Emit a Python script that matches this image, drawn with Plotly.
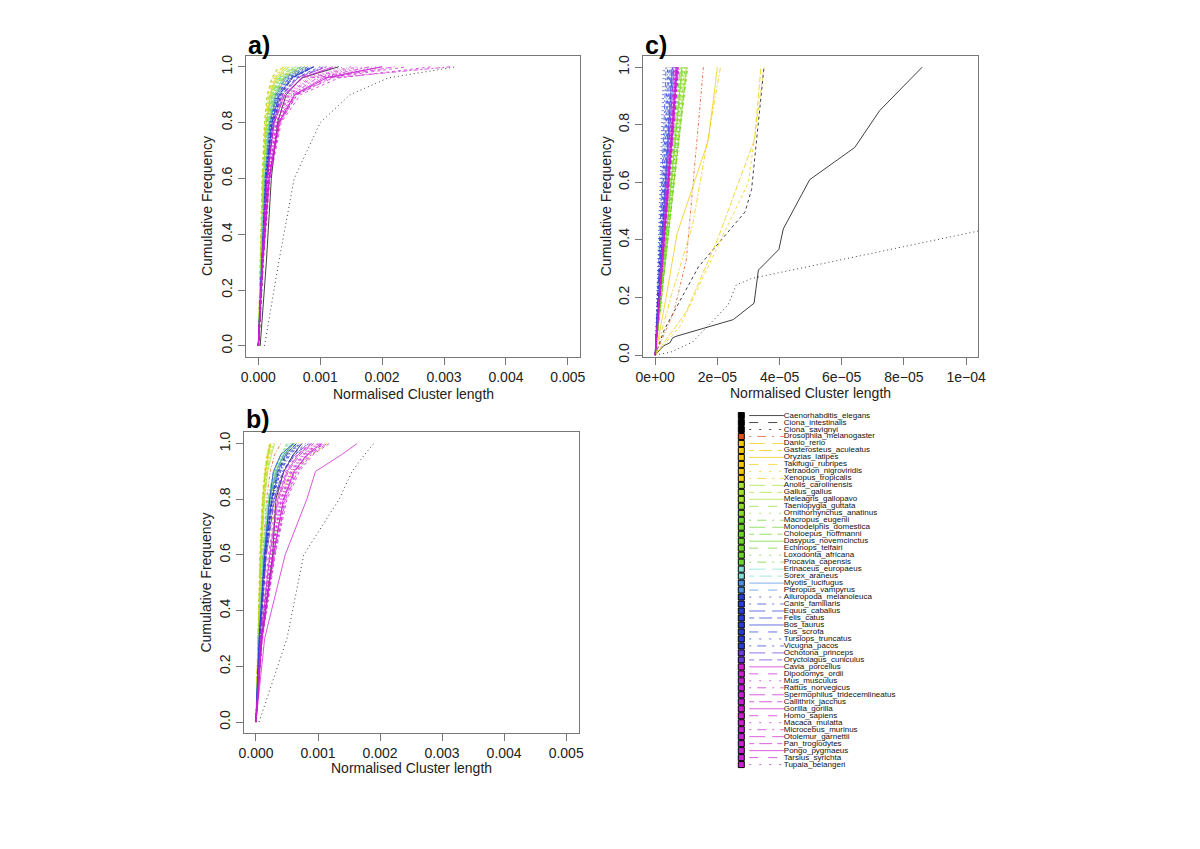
import plotly.graph_objects as go

# ---------------- data ----------------
SPECIES = [
    "Caenorhabditis_elegans", "Ciona_intestinalis", "Ciona_savignyi", "Drosophila_melanogaster",
    "Danio_rerio", "Gasterosteus_aculeatus", "Oryzias_latipes", "Takifugu_rubripes",
    "Tetraodon_nigroviridis", "Xenopus_tropicalis", "Anolis_carolinensis", "Gallus_gallus",
    "Meleagris_gallopavo", "Taeniopygia_guttata", "Ornithorhynchus_anatinus", "Macropus_eugenii",
    "Monodelphis_domestica", "Choloepus_hoffmanni", "Dasypus_novemcinctus", "Echinops_telfairi",
    "Loxodonta_africana", "Procavia_capensis", "Erinaceus_europaeus", "Sorex_araneus",
    "Myotis_lucifugus", "Pteropus_vampyrus", "Ailuropoda_melanoleuca", "Canis_familiaris",
    "Equus_caballus", "Felis_catus", "Bos_taurus", "Sus_scrofa", "Tursiops_truncatus",
    "Vicugna_pacos", "Ochotona_princeps", "Oryctolagus_cuniculus", "Cavia_porcellus",
    "Dipodomys_ordii", "Mus_musculus", "Rattus_norvegicus", "Spermophilus_tridecemlineatus",
    "Callithrix_jacchus", "Gorilla_gorilla", "Homo_sapiens", "Macaca_mulatta",
    "Microcebus_murinus", "Otolemur_garnettii", "Pan_troglodytes", "Pongo_pygmaeus",
    "Tarsius_syrichta", "Tupaia_belangeri",
]

COLORS = (
    ["#000000"] * 3 + ["#E4501C"] + ["#F2CB05"] * 6 + ["#A6E22E"] * 3 + ["#8EDC2A"] * 2
    + ["#6CD42A"] * 7 + ["#7FE0D2"] * 2 + ["#4A8FE0"] * 2 + ["#2A3CD8"] * 8
    + ["#6A3CE0"] * 2 + ["#CC1FD2"] * 15
)

LTY_CYCLE = ["solid", "dashed", "dotted", "dotdash", "longdash", "twodash"]
LTY = [LTY_CYCLE[i % 6] for i in range(len(SPECIES))]

# cumulative-frequency levels for panels a) and b)
LEVELS_AB = [0, 0.3, 0.6, 0.8, 0.9, 0.96, 1.0]
UNIT_AB = 1e-4   # x values below are in units of 1e-4

A_X = [
    [0.3, 1.3, 2.1, 3.1, 4.5, 7.0, 13.0],
    [0.1, 0.8, 1.5, 2.4, 3.6, 5.5, 9.0],
    [1.0, 3.3, 5.8, 10.0, 14.8, 21.0, 32.0],
    [0.1, 0.7, 1.3, 2.0, 2.8, 4.2, 7.0],
    [0.0, 0.5, 1.0, 1.6, 2.3, 3.5, 6.0],
    [0.0, 0.3, 0.7, 1.1, 1.6, 2.4, 4.0],
    [0.0, 0.35, 0.8, 1.3, 1.9, 2.8, 4.5],
    [0.0, 0.3, 0.6, 1.0, 1.5, 2.2, 3.5],
    [0.0, 0.3, 0.65, 1.1, 1.7, 2.6, 3.8],
    [0.0, 0.5, 1.1, 1.8, 2.7, 4.0, 6.5],
    [0.0, 0.4, 0.9, 1.4, 2.1, 3.2, 5.0],
    [0.0, 0.35, 0.75, 1.2, 1.8, 2.7, 4.2],
    [0.0, 0.4, 0.8, 1.3, 2.0, 3.0, 4.8],
    [0.0, 0.3, 0.6, 1.0, 1.4, 2.2, 3.2],
    [0.0, 0.5, 1.1, 1.9, 2.9, 4.4, 7.5],
    [0.0, 0.45, 1.0, 1.6, 2.4, 3.6, 6.0],
    [0.0, 0.5, 1.1, 1.8, 2.8, 4.4, 7.5],
    [0.0, 0.4, 0.9, 1.5, 2.2, 3.3, 5.5],
    [0.0, 0.45, 1.0, 1.7, 2.6, 4.0, 6.8],
    [0.0, 0.5, 1.1, 1.9, 3.0, 4.8, 8.0],
    [0.0, 0.5, 1.0, 1.7, 2.6, 4.0, 6.5],
    [0.0, 0.45, 1.0, 1.6, 2.5, 3.8, 6.2],
    [0.0, 0.45, 1.0, 1.7, 2.6, 4.0, 6.5],
    [0.0, 0.4, 0.9, 1.5, 2.3, 3.5, 5.8],
    [0.0, 0.5, 1.1, 1.9, 2.9, 4.5, 7.5],
    [0.0, 0.5, 1.1, 1.8, 2.8, 4.3, 7.0],
    [0.0, 0.55, 1.2, 2.1, 3.3, 5.2, 8.5],
    [0.0, 0.6, 1.3, 2.3, 3.6, 5.6, 9.0],
    [0.0, 0.55, 1.25, 2.2, 3.4, 5.4, 9.0],
    [0.0, 0.55, 1.2, 2.1, 3.2, 5.0, 8.5],
    [0.0, 0.6, 1.3, 2.2, 3.4, 5.3, 8.8],
    [0.0, 0.6, 1.35, 2.4, 3.8, 6.0, 10.0],
    [0.0, 0.5, 1.1, 1.9, 3.0, 4.8, 8.0],
    [0.0, 0.55, 1.2, 2.0, 3.1, 4.9, 8.0],
    [0.0, 0.6, 1.4, 2.5, 4.0, 6.4, 11.0],
    [0.0, 0.6, 1.35, 2.4, 3.8, 6.2, 10.5],
    [0.0, 0.6, 1.4, 2.6, 4.2, 7.0, 12.0],
    [0.0, 0.55, 1.3, 2.4, 3.9, 6.4, 11.0],
    [0.0, 0.65, 1.5, 2.8, 4.6, 7.8, 14.0],
    [0.0, 0.65, 1.55, 2.9, 4.8, 8.2, 15.0],
    [0.0, 0.6, 1.4, 2.6, 4.3, 7.2, 12.5],
    [0.0, 0.7, 1.7, 3.2, 5.4, 9.5, 18.0],
    [0.0, 0.7, 1.7, 3.3, 5.8, 10.5, 20.0],
    [0.0, 0.75, 1.8, 3.5, 6.3, 11.5, 24.0],
    [0.0, 0.7, 1.7, 3.2, 5.6, 10.0, 19.0],
    [0.0, 0.7, 1.6, 3.0, 5.0, 8.6, 16.0],
    [0.0, 0.72, 1.75, 3.4, 6.0, 11.0, 22.0],
    [0.0, 0.75, 1.8, 3.5, 6.2, 12.0, 31.0],
    [0.0, 0.72, 1.75, 3.3, 5.9, 11.0, 20.0],
    [0.0, 0.8, 1.9, 3.7, 6.8, 13.0, 28.0],
    [0.0, 0.7, 1.6, 3.0, 5.2, 9.0, 17.0],
]

B_X = [
    [0.0, 0.9, 2.7, 3.2, 4.5, 6.0, 7.4],
    [0.0, 0.7, 1.6, 2.6, 3.6, 4.8, 6.5],
    [0.5, 5.0, 7.7, 13.4, 15.5, 17.5, 19.0],
    [0.0, 0.5, 1.1, 1.7, 2.3, 3.0, 4.0],
    [0.0, 0.3, 0.7, 1.1, 1.5, 1.9, 2.3],
    [0.0, 0.3, 0.8, 1.3, 1.7, 2.1, 2.6],
    [0.0, 0.35, 0.8, 1.2, 1.6, 2.0, 2.4],
    [0.0, 0.25, 0.6, 1.0, 1.4, 1.8, 2.2],
    [0.0, 0.3, 0.7, 1.0, 1.3, 1.7, 2.0],
    [0.0, 0.6, 1.6, 3.2, 6.0, 9.0, 11.5],
    [0.0, 0.3, 0.7, 1.1, 1.5, 1.9, 2.3],
    [0.0, 0.35, 0.8, 1.3, 1.8, 2.3, 2.8],
    [0.0, 0.4, 0.9, 1.4, 1.9, 2.5, 3.0],
    [0.0, 0.3, 0.7, 1.1, 1.5, 1.9, 2.4],
    [0.0, 0.5, 1.3, 2.2, 3.3, 4.5, 6.0],
    [0.0, 0.5, 1.2, 2.0, 3.0, 4.0, 5.5],
    [0.0, 0.55, 1.3, 2.3, 3.4, 4.6, 6.2],
    [0.0, 0.45, 1.1, 1.9, 2.9, 4.0, 5.0],
    [0.0, 0.5, 1.2, 2.1, 3.2, 4.5, 6.0],
    [0.0, 0.55, 1.3, 2.4, 3.6, 5.0, 7.0],
    [0.0, 0.5, 1.2, 2.0, 3.0, 4.3, 5.8],
    [0.0, 0.5, 1.2, 2.1, 3.1, 4.4, 6.2],
    [0.0, 0.5, 1.2, 2.0, 3.1, 4.3, 5.6],
    [0.0, 0.45, 1.1, 1.9, 2.8, 4.0, 5.2],
    [0.0, 0.5, 1.3, 2.2, 3.3, 4.5, 6.0],
    [0.0, 0.55, 1.3, 2.3, 3.5, 4.8, 6.5],
    [0.0, 0.6, 1.5, 2.6, 3.8, 5.2, 7.0],
    [0.0, 0.6, 1.5, 2.7, 4.0, 5.5, 7.5],
    [0.0, 0.6, 1.5, 2.5, 3.5, 4.8, 6.5],
    [0.0, 0.55, 1.4, 2.5, 3.7, 5.0, 6.8],
    [0.0, 0.5, 1.4, 2.2, 2.8, 4.0, 6.0],
    [0.0, 0.6, 1.6, 2.9, 4.3, 6.0, 8.0],
    [0.0, 0.55, 1.4, 2.5, 3.7, 5.2, 7.0],
    [0.0, 0.6, 1.5, 2.6, 3.9, 5.3, 7.2],
    [0.0, 0.65, 1.7, 3.0, 4.5, 6.3, 8.5],
    [0.0, 0.65, 1.6, 2.9, 4.4, 6.2, 8.4],
    [0.0, 0.8, 2.2, 3.5, 5.0, 6.8, 9.0],
    [0.0, 0.75, 2.0, 3.3, 4.8, 6.6, 8.8],
    [0.0, 0.85, 2.4, 3.9, 5.5, 7.4, 9.6],
    [0.0, 0.9, 2.6, 4.1, 5.8, 7.8, 10.2],
    [0.0, 0.8, 2.3, 3.7, 5.2, 7.1, 9.3],
    [0.0, 0.95, 2.8, 4.5, 6.3, 8.2, 10.6],
    [0.0, 1.4, 4.7, 8.2, 9.6, 13.8, 16.3],
    [0.0, 0.95, 2.9, 4.7, 6.5, 8.6, 11.0],
    [0.0, 0.9, 2.7, 4.3, 6.0, 8.0, 10.3],
    [0.0, 0.85, 2.5, 4.0, 5.6, 7.6, 9.9],
    [0.0, 0.95, 2.8, 4.5, 6.2, 8.4, 10.9],
    [0.0, 1.0, 3.0, 4.8, 6.7, 8.9, 11.4],
    [0.0, 0.95, 2.8, 4.4, 6.1, 8.2, 10.5],
    [0.0, 1.05, 3.1, 5.0, 7.0, 9.2, 11.8],
    [0.0, 0.9, 2.6, 4.2, 5.8, 7.7, 10.0],
]

UNIT_C = 1e-5   # panel c) x values in units of 1e-5
C_X = [
    [0, 0.16, 0.27, 0.48, 0.56, 0.7, 2.51, 3.18, 3.32, 3.98, 4.12, 4.97, 6.42, 7.22, 8.59],
    [0, 0.3, 1.39, 2.89, 3.1, 3.5],
    [0, 0.5, 1.2, 2.35, 2.6, 3.1, 10.5, 12.0],
    [0, 0.6, 1.0, 1.55],
    [0, 1.0, 2.0, 3.2, 3.4],
    [0, 0.5, 1.2, 2.1],
    [0, 0.35, 0.7, 1.71, 2.0],
    [0, 0.8, 1.8, 3.0, 3.5],
    [0, 0.45, 0.95], [0, 0.5, 1.0], [0, 0.45, 0.9], [0, 0.42, 0.85],
    [0, 0.5, 1.0], [0, 0.4, 0.82], [0, 0.48, 0.95], [0, 0.44, 0.88],
    [0, 0.5, 1.02], [0, 0.4, 0.8], [0, 0.42, 0.86], [0, 0.47, 0.96],
    [0, 0.45, 0.92], [0, 0.5, 1.05], [0, 0.36, 0.72], [0, 0.34, 0.68],
    [0, 0.3, 0.6], [0, 0.2, 0.42], [0, 0.15, 0.3], [0, 0.2, 0.4],
    [0, 0.26, 0.52], [0, 0.17, 0.35], [0, 0.28, 0.55], [0, 0.22, 0.45],
    [0, 0.13, 0.26], [0, 0.24, 0.48], [0, 0.3, 0.6], [0, 0.27, 0.56],
    [0, 0.33, 0.66], [0, 0.3, 0.62], [0, 0.32, 0.64], [0, 0.35, 0.7],
    [0, 0.34, 0.68], [0, 0.36, 0.72], [0, 0.35, 0.7], [0, 0.37, 0.74],
    [0, 0.33, 0.66], [0, 0.36, 0.72], [0, 0.34, 0.69], [0, 0.37, 0.75],
    [0, 0.35, 0.71], [0, 0.38, 0.76], [0, 0.32, 0.65],
]
C_Y = [
    [0, 0.02, 0.032, 0.043, 0.06, 0.066, 0.123, 0.18, 0.295, 0.367, 0.438, 0.609, 0.721, 0.849, 1.0],
    [0, 0.09, 0.306, 0.497, 0.575, 1.0],
    [0, 0.01, 0.045, 0.175, 0.243, 0.266, 0.433, 0.46],
    [0, 0.15, 0.33, 1.0],
    [0, 0.15, 0.4, 0.75, 1.0],
    [0, 0.2, 0.45, 1.0],
    [0, 0.2, 0.42, 0.746, 1.0],
    [0, 0.1, 0.33, 0.6, 1.0],
] + [[0, 0.5, 1.0]] * 43

XTICKS_AB = [0, 0.001, 0.002, 0.003, 0.004, 0.005]
XTICKTEXT_AB = ["0.000", "0.001", "0.002", "0.003", "0.004", "0.005"]
XTICKS_C = [0, 2e-5, 4e-5, 6e-5, 8e-5, 1e-4]
XTICKTEXT_C = ["0e+00", "2e\u221205", "4e\u221205", "6e\u221205", "8e\u221205", "1e\u221204"]
YTICKS = [0, 0.2, 0.4, 0.6, 0.8, 1.0]
YTICKTEXT = ["0.0", "0.2", "0.4", "0.6", "0.8", "1.0"]

# ---------------- style ----------------
PAGE_PAD = 8            # default body margin of the html page
W, H = 1184, 833
DASH_PLOT = {"solid": "solid", "dashed": "3px,3px", "dotted": "1px,3px",
             "dotdash": "1px,2px,3px,2px", "longdash": "6px,2px", "twodash": "2px,2px,5px,2px"}
DASH_LEG = {"solid": "solid", "dashed": "9px,10px", "dotted": "2px,8px",
            "dotdash": "2px,6px,9px,6px", "longdash": "16px,7px", "twodash": "5px,5px,13px,5px"}
FONT = "Liberation Sans, Arial, Helvetica, sans-serif"
NARROW = "Liberation Sans Narrow, Arial Narrow, Liberation Sans, sans-serif"
LINE_OPACITY = 0.75


def px_x(p):
    return (p - PAGE_PAD) / W


def px_y(p):
    return 1 - (p - PAGE_PAD) / H


fig = go.Figure()

panels = [("x", "y", A_X, None), ("x2", "y2", B_X, None), ("x3", "y3", C_X, C_Y)]
for xa, ya, xs, ys in panels:
    for i in range(len(SPECIES)):
        if ys is None:
            xv = [v * UNIT_AB for v in xs[i]]
            yv = LEVELS_AB
        else:
            xv = [v * UNIT_C for v in xs[i]]
            yv = ys[i]
        fig.add_trace(go.Scatter(
            x=xv, y=yv, xaxis=xa, yaxis=ya, mode="lines", opacity=LINE_OPACITY,
            line=dict(color=COLORS[i], width=1, dash=DASH_PLOT[LTY[i]]),
            showlegend=False, hoverinfo="skip"))

# legend (drawn on a hidden axis scaled in page pixels)
BOX_X, LINE_X0, LINE_X1, TEXT_X = 743, 751, 786, 786
n = len(SPECIES)
rows = list(range(n))
for i in rows:
    fig.add_trace(go.Scatter(
        x=[LINE_X0, LINE_X1], y=[i, i], xaxis="x4", yaxis="y4", mode="lines",
        opacity=0.7, line=dict(color=COLORS[i], width=1, dash=DASH_LEG[LTY[i]]),
        showlegend=False, hoverinfo="skip"))
fig.add_trace(go.Scatter(
    x=[BOX_X] * n, y=rows, xaxis="x4", yaxis="y4", mode="markers",
    marker=dict(symbol="square", size=6, color=COLORS, line=dict(color="#000000", width=1)),
    showlegend=False, hoverinfo="skip"))
fig.add_trace(go.Scatter(
    x=[TEXT_X] * n, y=rows, xaxis="x4", yaxis="y4", mode="text", text=SPECIES,
    textposition="middle right", textfont=dict(family=NARROW, size=8, color="#111111"),
    showlegend=False, hoverinfo="skip"))

axis_common = dict(showgrid=False, zeroline=False, showline=True, linecolor="#777777",
                   linewidth=1, mirror=True, ticks="outside", ticklen=7, tickcolor="#777777",
                   tickfont=dict(family=FONT, size=14, color="#222222"))

AB_XRANGE = [-0.0002, 0.0052]
Y_RANGE = [-0.04, 1.04]

fig.update_layout(
    width=W, height=H, margin=dict(l=0, r=0, t=0, b=0),
    paper_bgcolor="white", plot_bgcolor="white", showlegend=False,
    xaxis=dict(domain=[px_x(241.7), px_x(580)], range=AB_XRANGE, tickvals=XTICKS_AB,
               ticktext=XTICKTEXT_AB, anchor="y", **axis_common),
    yaxis=dict(domain=[px_y(359), px_y(55)], range=Y_RANGE, tickvals=YTICKS,
               ticktext=YTICKTEXT, tickangle=-90, anchor="x", **axis_common),
    xaxis2=dict(domain=[px_x(239.3), px_x(578.3)], range=AB_XRANGE, tickvals=XTICKS_AB,
                ticktext=XTICKTEXT_AB, anchor="y2", **axis_common),
    yaxis2=dict(domain=[px_y(738.3), px_y(435)], range=Y_RANGE, tickvals=YTICKS,
                ticktext=YTICKTEXT, tickangle=-90, anchor="x2", **axis_common),
    xaxis3=dict(domain=[px_x(643.3), px_x(983)], range=[-0.4e-5, 1.04e-4], tickvals=XTICKS_C,
                ticktext=XTICKTEXT_C, anchor="y3", **axis_common),
    yaxis3=dict(domain=[px_y(359), px_y(55)], range=[-0.007, 1.04], tickvals=YTICKS,
                ticktext=YTICKTEXT, tickangle=-90, anchor="x3", **axis_common),
    xaxis4=dict(domain=[px_x(720), px_x(960)], range=[720, 960], visible=False, anchor="y4"),
    yaxis4=dict(domain=[px_y(775), px_y(412)], range=[50.71, -0.852], visible=False, anchor="x4"),
)

ann = []
for txt, xp, yp in [("a)", 242, 44), ("b)", 240, 421), ("c)", 644, 44)]:
    ann.append(dict(text=txt, x=px_x(xp), y=px_y(yp), xref="paper", yref="paper",
                    xanchor="left", yanchor="middle", showarrow=False,
                    font=dict(family=FONT, size=25, color="#000000", weight="bold")))
for xp, yp in [(410.8, 396.5), (408.8, 773), (813, 395.5)]:
    ann.append(dict(text="Normalised Cluster length", x=px_x(xp), y=px_y(yp), xref="paper",
                    yref="paper", xanchor="center", yanchor="middle", showarrow=False,
                    font=dict(family=FONT, size=14, color="#222222")))
for xp, yp in [(203, 207), (201, 586.7), (606, 207)]:
    ann.append(dict(text="Cumulative Frequency", x=px_x(xp), y=px_y(yp), xref="paper",
                    yref="paper", xanchor="center", yanchor="middle", textangle=-90,
                    showarrow=False, font=dict(family=FONT, size=14, color="#222222")))
fig.update_layout(annotations=ann)

fig.write_html("out.html")
